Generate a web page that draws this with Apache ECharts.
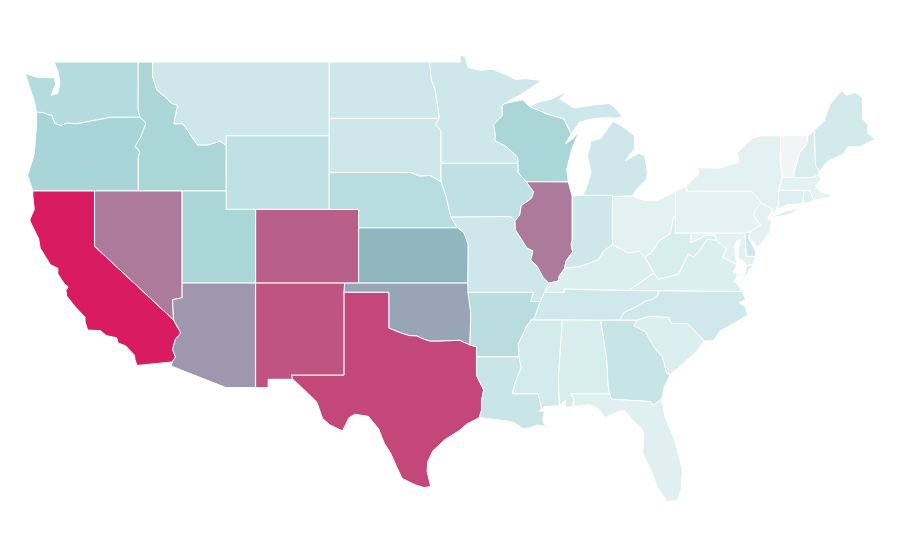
<!DOCTYPE html>
<html><head><meta charset="utf-8">
<style>html,body{margin:0;background:#fff}#c{width:900px;height:560px}</style>
<script src="https://cdn.jsdelivr.net/npm/echarts@6/dist/echarts.min.js"></script>
</head><body><div id="c"></div>
<script>
const stateNames = ["Washington","Oregon","California","Idaho","Nevada","Montana","Wyoming","Utah","Arizona","Colorado","New Mexico","North Dakota","South Dakota","Nebraska","Kansas","Oklahoma","Texas","Minnesota","Iowa","Missouri","Arkansas","Louisiana","Wisconsin","Illinois","Michigan","Indiana","Ohio","Kentucky","Tennessee","Mississippi","Alabama","Georgia","Florida","South Carolina","North Carolina","Virginia","West Virginia","Maryland","Delaware","District of Columbia","Pennsylvania","New Jersey","New York","Connecticut","Rhode Island","Massachusetts","Vermont","New Hampshire","Maine"];
const stateValues = [33.6,40,100,38.4,69,20,27,39,60,78,82,20,20,31.5,50,55.5,86,20,27,20,31,22,38.4,69,20,20,9,13,19,16.5,14.4,23.5,10.7,13,18.7,13,14.4,9,20,14,7.5,8.5,8.5,12,12,8,0,14,17];
const scaleColors = ["#f3f4f6","#e1f1f2","#cde7ea","#bbdee0","#a8d5d7","#90b6c0","#9f97ad","#ad789a","#bc5a86","#ca3b73","#d91c60"];

// Shared borders in longitude,latitude
const seg = {
 col:"-123.95,46.27 -123.5,46.26 -123.2,46.15 -122.9,46.1 -122.8,45.85 -122.7,45.66 -122.3,45.55 -121.9,45.68 -121.2,45.65 -120.6,45.74 -119.9,45.85 -119.2,45.95 -118.98,46 -116.92,46",
 snake:"-116.92,46 -116.5,45.7 -116.85,44.95 -117.25,44.4 -117.03,44.25 -116.93,44.1 -117.03,43.83 -117.03,42",
 idmt:"-116.05,49 -116.05,48.18 -115.76,47.48 -115.2,47.1 -114.75,46.75 -114.35,46.65 -114.5,46.1 -114.6,45.65 -114,45.65 -113.6,45.2 -113.4,44.95 -113,44.5 -112.3,44.5 -111.47,44.7 -111.05,44.48",
 sdne:"-104.05,43 -98.5,43 -97.9,42.8 -97.2,42.85 -96.45,42.49",
 mo1:"-96.45,42.49 -96.1,41.7 -95.9,41 -95.77,40.58",
 mo2:"-95.77,40.58 -95.31,40",
 ksmo:"-95.31,40 -94.9,39.75 -94.6,39.1 -94.62,37",
 sdmn:"-96.56,45.94 -96.85,45.6 -96.45,45.3 -96.45,43.5",
 ndmn:"-97.23,49 -97.1,48 -96.85,47.5 -96.56,45.94",
 mnwi:"-92.1,46.75 -92.29,46.66 -92.29,46.07 -92.88,45.6 -92.75,45 -92.8,44.75 -92,44.4 -91.25,43.85 -91.22,43.5",
 iawi:"-91.22,43.5 -91.2,43 -90.65,42.5",
 iail:"-90.65,42.5 -90.15,41.95 -90.3,41.6 -91,41.2 -91.1,40.7 -91.42,40.38",
 momi:"-91.42,40.38 -91.4,39.9 -90.6,38.9 -90.2,38.75 -90.35,38.25 -89.9,37.9 -89.5,37.3 -89.13,37",
 ohio1:"-89.13,37 -88.5,37.1 -88.4,37.4 -88.05,37.8",
 wab:"-88.05,37.8 -87.95,38.2 -87.5,38.7 -87.6,39.1 -87.53,39.35 -87.53,41.7",
 ohio2:"-88.05,37.8 -87,37.9 -86.3,38.1 -85.75,38.27 -85.4,38.73 -84.8,39.1",
 ohio3:"-84.8,39.1 -84.25,38.85 -83.7,38.63 -83,38.73 -82.6,38.42",
 ohio4:"-82.6,38.42 -82.2,38.6 -81.75,39.1 -81.7,39.25 -80.85,39.7 -80.65,40.6 -80.52,40.64",
 kywv:"-82.6,38.42 -82,37.55 -81.97,37.54",
 kyva:"-81.97,37.54 -83.68,36.6",
 kytn:"-83.68,36.6 -86,36.63 -88.07,36.68 -88.07,36.5 -89.42,36.5",
 momis:"-89.13,37 -89.42,36.5 -89.7,36 -90.1,35.1 -90.3,35",
 armis:"-90.3,35 -90.6,34.7 -90.9,34.2 -91.2,33.7 -91.15,33",
 lams:"-91.15,33 -91,32.4 -91.4,31.6 -91.6,31 -89.85,31 -89.6,30.18",
 red:"-100,34.56 -99.2,34.3 -98.6,34.15 -98.1,34.13 -97.6,33.95 -97.2,33.85 -96.6,33.85 -95.9,33.87 -95.2,33.9 -94.48,33.64",
 sabine:"-94.04,33 -94.04,32 -93.8,31.6 -93.55,31.2 -93.7,30.6 -93.7,30.1 -93.85,29.7",
 colo:"-114.63,35 -114.14,34.3 -114.5,33.95 -114.7,33.4 -114.5,33 -114.72,32.72",
 wvva:"-81.97,37.54 -81.68,37.2 -80.3,37.5 -79.65,38.58 -79.3,38.42 -78.87,38.77 -78.35,39.4 -77.72,39.32",
 wvmd:"-79.48,39.72 -79.48,39.2 -78.9,39.4 -78.4,39.62 -77.83,39.6 -77.72,39.32",
 potomac:"-77.72,39.32 -77.05,38.85 -77.3,38.4 -76.32,38",
 delr:"-75.4,39.8 -74.72,40.15 -75.2,40.65 -75.1,40.95 -74.7,41.36",
 tnnc:"-81.68,36.59 -81.7,36.35 -82.05,36.12 -82.6,36 -83.1,35.75 -84,35.4 -84.32,34.99",
 savannah:"-83.11,35 -83.35,34.7 -82.55,34.35 -81.95,33.5 -81.4,33 -81.1,32.1 -80.85,32.05",
 ncsc:"-83.11,35 -82.3,35.2 -81.05,35.15 -80.93,35.1 -80.8,34.82 -79.67,34.8 -78.55,33.86",
 gaal:"-85.6,34.98 -85.18,32.87 -85.1,31.55 -85,31",
 gafl:"-85,31 -84.86,30.7 -82.2,30.57 -82.05,30.36 -81.45,30.72",
 alfl:"-85,31 -87.6,31 -87.4,30.65 -87.5,30.3",
 alms:"-88.2,35 -88.47,31.9 -88.4,30.35",
 vtnh:"-71.5,45 -71.6,44.5 -72.05,44.1 -72.45,43 -72.46,42.73",
 nhme:"-71.08,45.3 -70.98,43.4 -70.72,43.07"
};
const shapes = {
 "Washington":["-124.72,48.38 -123.9,48.17 -123.1,48.15 -122.75,48.15 -122.65,47.8 -122.95,47.2 -122.5,47.3 -122.35,47.9 -122.5,48.5 -122.75,49 -117.03,49 -117.04,46.42 -116.92,46 @-col -124.05,46.7 -124.15,47 -124.4,47.6"],
 "Oregon":["@col @snake -124.2,42 -124.55,42.84 -124.1,44 -123.95,45.5"],
 "California":["-124.2,42 -120,42 -120,39 @colo -117.12,32.53 -117.25,32.85 -117.3,33.1 -117.9,33.6 -118.4,33.75 -118.5,34.03 -119.2,34.15 -119.6,34.42 -120.47,34.45 -120.65,34.9 -120.65,35.15 -121.3,35.7 -121.9,36.3 -121.95,36.6 -121.8,36.8 -122.05,36.95 -122.5,37.5 -122.5,37.8 -123,38 -123.7,38.9 -123.8,39.4 -124.35,40.3 -124.4,40.45 -124.1,41 -124.2,41.75"],
 "Idaho":["-117.03,49 @idmt -111.05,42 -117.03,42 @-snake -117.04,46.42"],
 "Nevada":["-120,42 -114.05,42 -114.05,36.2 -114.7,36.1 -114.63,35 -120,39"],
 "Montana":["-116.05,49 -104.05,49 -104.05,45 -111.05,45 @-idmt"],
 "Wyoming":["-111.05,45 -104.05,45 -104.05,41 -111.05,41"],
 "Utah":["-114.05,42 -111.05,42 -111.05,41 -109.05,41 -109.05,37 -114.05,37"],
 "Arizona":["-114.05,37 -109.05,37 -109.05,31.33 -111.07,31.33 -114.8,32.5 @-colo -114.7,36.1 -114.05,36.2"],
 "Colorado":["-109.05,41 -102.05,41 -102.05,37 -109.05,37"],
 "New Mexico":["-109.05,37 -103,37 -103.04,36.5 -103.04,32 -106.62,32 -106.53,31.78 -108.2,31.78 -108.2,31.33 -109.05,31.33"],
 "North Dakota":["-104.05,49 @ndmn -104.05,45.94"],
 "South Dakota":["-104.05,45.94 @sdmn -96.45,42.49 -97.2,42.85 -97.9,42.8 -98.5,43 -104.05,43"],
 "Nebraska":["@sdne @mo1 @mo2 -102.05,40 -102.05,41 -104.05,41"],
 "Kansas":["-102.05,40 @ksmo -102.05,37"],
 "Oklahoma":["-103,37 -94.62,37 -94.43,35.39 -94.48,33.64 @-red -100,36.5 -103.04,36.5"],
 "Texas":["-103.04,36.5 -100,36.5 @red -94.04,33.55 @sabine -94.7,29.35 -95.2,29 -96.2,28.5 -97,27.9 -97.35,27.3 -97.4,26.8 -97.15,25.96 -97.6,25.9 -98.2,26.05 -99.1,26.4 -99.45,27 -99.9,27.8 -100.3,28.3 -100.7,29.1 -101.4,29.77 -102.3,29.88 -102.7,29.7 -103.15,28.98 -104,29.3 -104.5,29.65 -104.9,30.55 -106,31.4 -106.53,31.78 -106.62,32 -103.04,32"],
 "Minnesota":["@ndmn @sdmn -96.45,43.5 @-mnwi -90.9,47.3 -89.6,48 -90.75,48.1 -91.4,48.05 -92,48.3 -92.95,48.6 -93.8,48.55 -94.6,48.7 -94.8,49.3 -95.15,49.38 -95.15,49"],
 "Iowa":["-96.45,43.5 -91.22,43.5 @iawi @iail -91.73,40.61 -95.77,40.58 @-mo1"],
 "Missouri":["-95.77,40.58 -91.73,40.61 -91.42,40.38 @momi @momis -90.1,35.1 -89.7,36 -90.37,36 -90.15,36.5 -94.62,36.5 @-ksmo"],
 "Arkansas":["-94.62,36.5 -90.15,36.5 -90.37,36 -89.7,36 -90.1,35.1 @armis -94.04,33 -94.04,33.55 -94.48,33.64 -94.43,35.39"],
 "Louisiana":["-94.04,33 @lams -89.8,30.05 -89.4,30.05 -89.55,29.6 -89.4,29.3 -89.1,29.05 -89.5,29.25 -89.9,29.3 -90.4,29.15 -90.9,29.1 -91.4,29.4 -91.8,29.5 -92.3,29.55 -93.85,29.7 @-sabine"],
 "Wisconsin":["@mnwi @iawi -87.8,42.49 -87.9,43.2 -87.55,44.3 -87.05,45.25 -87.4,44.9 -88,44.55 -87.6,45.1 -88.1,45.92 -89.1,46.14 -90.4,46.57 -90.9,46.95"],
 "Illinois":["-90.65,42.5 -87.8,42.49 -87.53,41.7 -87.53,39.35 -87.6,39.1 -87.5,38.7 -87.95,38.2 -88.05,37.8 @-ohio1 @-momi @-iail"],
 "Michigan":["-86.82,41.76 -84.8,41.76 -84.8,41.7 -83.45,41.73 -83.15,42.1 -82.5,42.6 -82.42,43 -82.6,43.9 -83,44.05 -83.9,43.65 -83.3,44.3 -83.3,45 -84.1,45.5 -84.75,45.78 -85.1,45.4 -85.6,44.85 -86.25,44.7 -86.5,43.9 -86.25,43 -86.6,42.1","-90.4,46.57 -89.1,46.14 -88.1,45.92 -87.6,45.1 -87,45.75 -86.3,45.9 -85,46 -84.75,45.95 -84.1,46 -84.6,46.5 -85,46.75 -86.1,46.67 -87.4,46.5 -88.4,47 -87.8,47.45 -88.9,47 -89.9,46.8"],
 "Indiana":["-87.53,41.7 -87.2,41.76 -86.82,41.76 -84.8,41.76 -84.8,39.1 @-ohio2 @wab"],
 "Ohio":["-84.8,41.7 -83.45,41.73 -82.7,41.5 -81.7,41.5 -80.52,41.98 @-ohio4 @-ohio3"],
 "Kentucky":["@ohio1 @ohio2 @ohio3 @kywv @kyva @kytn"],
 "Tennessee":["-90.3,35 -90.1,35.1 -89.7,36 -89.42,36.5 @-kytn -81.68,36.59 @tnnc -85.6,34.98 -88.2,35"],
 "Mississippi":["-90.3,35 -88.2,35 @alms -89.4,30.3 -89.6,30.18 -89.85,31 -91.6,31 -91.4,31.6 -91,32.4 -91.15,33 -91.2,33.7 -90.9,34.2 -90.6,34.7"],
 "Alabama":["-88.2,35 @gaal @alfl -88,30.25 -88,30.65 -88.4,30.35 -88.47,31.9"],
 "Georgia":["-85.6,34.98 -84.32,34.99 @savannah -81.3,31.3 -81.45,30.72 @-gafl -85.1,31.55 -85.18,32.87"],
 "Florida":["@alfl -86.3,30.4 -85.7,30.15 -85.3,29.7 -84.35,30.05 -84,30.1 -83.4,29.55 -82.8,29.1 -82.65,28.75 -82.75,27.8 -82.4,27.2 -82.1,26.7 -81.75,25.95 -81.1,25.15 -80.4,25.2 -80.12,25.8 -80.05,26.9 -80.55,28.45 -81.25,29.8 -81.45,30.72 -82.05,30.36 -82.2,30.57 -84.86,30.7"],
 "South Carolina":["@ncsc -79.2,33.2 -79.9,32.7 -80.85,32.05 -81.1,32.1 -81.4,33 -81.95,33.5 -82.55,34.35 -83.35,34.7"],
 "North Carolina":["-81.68,36.59 -75.97,36.55 -75.75,36.1 -76.2,35.95 -75.75,35.7 -75.6,35.25 -76.5,34.85 -76.9,34.65 -77.5,34.4 -77.9,33.88 -78.55,33.86 -79.67,34.8 -80.8,34.82 -80.93,35.1 -81.05,35.15 -82.3,35.2 -83.11,35 -84.32,34.99 -84,35.4 -83.1,35.75 -82.6,36 -82.05,36.12 -81.7,36.35"],
 "Virginia":["-83.68,36.6 -81.97,37.54 -81.68,37.2 -80.3,37.5 -79.65,38.58 -79.3,38.42 -78.87,38.77 -78.35,39.4 @potomac -76.6,37.6 -76.3,37.5 -76.5,37.05 -76.3,36.95 -75.97,36.55 -81.68,36.59","-75.95,37.15 -75.65,37.95 -75.24,38.03"],
 "West Virginia":["-82.6,38.42 @ohio4 -80.52,39.72 @wvmd @-wvva @-kywv"],
 "Maryland":["-79.48,39.72 -75.79,39.72 -75.69,38.46 -75.05,38.45 -75.24,38.03 -75.65,37.95 -75.9,38.2 -76.25,38.35 -76.25,38.8 -76.1,39.4 -76.45,39.2 -76.5,38.9 -76.42,38.4 -76.32,38 -77.3,38.4 -77.05,38.85 -77.72,39.32 -77.83,39.6 -78.4,39.62 -78.9,39.4 -79.48,39.2"],
 "Delaware":["-75.79,39.72 -75.4,39.8 -75.55,39.45 -75.1,38.8 -75.05,38.45 -75.69,38.46"],
 "District of Columbia":["-77.12,38.93 -77.04,39 -76.91,38.89 -77.04,38.79"],
 "Pennsylvania":["-80.52,41.98 -79.76,42.27 -79.76,42 -75.35,42 -75.05,41.75 @-delr -75.79,39.72 -80.52,39.72"],
 "New Jersey":["-74.7,41.36 -73.9,41 -74.25,40.5 -73.98,40.4 -74.1,39.75 -74.9,38.95 -75.5,39.5 @delr"],
 "New York":["-79.76,42.27 -78.9,42.95 -79.05,43.26 -77.5,43.25 -76.2,43.55 -76.3,44.1 -75.3,44.85 -74.7,45 -73.35,45 -73.4,43.6 -73.25,42.75 -73.5,42.05 -73.5,41.3 -73.65,41 -73.9,40.8 -73.9,41 -74.7,41.36 -75.05,41.75 -75.35,42 -79.76,42","-74,40.6 -72.9,40.95 -71.9,41.05 -72.8,40.72 -74,40.55"],
 "Connecticut":["-73.5,42.05 -71.8,42.02 -71.85,41.32 -72.9,41.25 -73.65,41 -73.5,41.3"],
 "Rhode Island":["-71.8,42.02 -71.38,42.02 -71.12,41.5 -71.5,41.37 -71.85,41.32"],
 "Massachusetts":["-73.5,42.05 -73.25,42.75 -72.46,42.73 -71.25,42.74 -70.82,42.87 -70.6,42.65 -71,42.3 -70.65,41.95 -70,41.8 -70,42.05 -69.95,41.67 -70.65,41.55 -71.12,41.5 -71.38,42.02 -71.8,42.02"],
 "Vermont":["-73.35,45 @vtnh -73.25,42.75 -73.4,43.6"],
 "New Hampshire":["@vtnh -71.25,42.74 -70.82,42.87 -70.72,43.07 -70.98,43.4 -71.08,45.3"],
 "Maine":["@nhme -70.2,43.6 -69.1,44 -68.8,44.4 -68,44.4 -66.95,44.8 -67.45,45.15 -67.45,45.6 -67.78,45.9 -67.8,47.07 -68.3,47.35 -68.9,47.2 -69.23,47.46 -70,46.7 -70.25,46.2 -70.4,45.8"]
};
function parse(path){
  const pts=[];
  path.trim().split(/\s+/).forEach(t=>{
    if(t[0]==='@'){
      const rev=t[1]==='-', name=t.slice(rev?2:1);
      let p=seg[name].split(' ').map(s=>s.split(',').map(Number));
      if(rev)p=p.slice().reverse();
      pts.push(...p);
    } else pts.push(t.split(',').map(Number));
  });
  pts.push(pts[0]);
  return pts;
}
const geo={type:"FeatureCollection",features:stateNames.map(n=>({type:"Feature",properties:{name:n},
  geometry:{type:"MultiPolygon",coordinates:shapes[n].map(p=>[parse(p)])}}))};
echarts.registerMap('USA',geo);
const chart=echarts.init(document.getElementById('c'),null,{renderer:'canvas'});
chart.setOption({
  animation:false,
  backgroundColor:'#fff',
  visualMap:{show:false,min:0,max:100,seriesIndex:0,inRange:{color:scaleColors}},
  series:[{type:'map',map:'USA',roam:false,aspectScale:0.8,
    boundingCoords:[[-124.73,49.38],[-66.95,25.12]],
    left:25,top:55,width:850,height:447,
    label:{show:false},
    itemStyle:{borderColor:'#fff',borderWidth:1},
    emphasis:{disabled:true},select:{disabled:true},
    data:stateNames.map((n,i)=>({name:n,value:stateValues[i]}))}]
});
</script></body></html>
